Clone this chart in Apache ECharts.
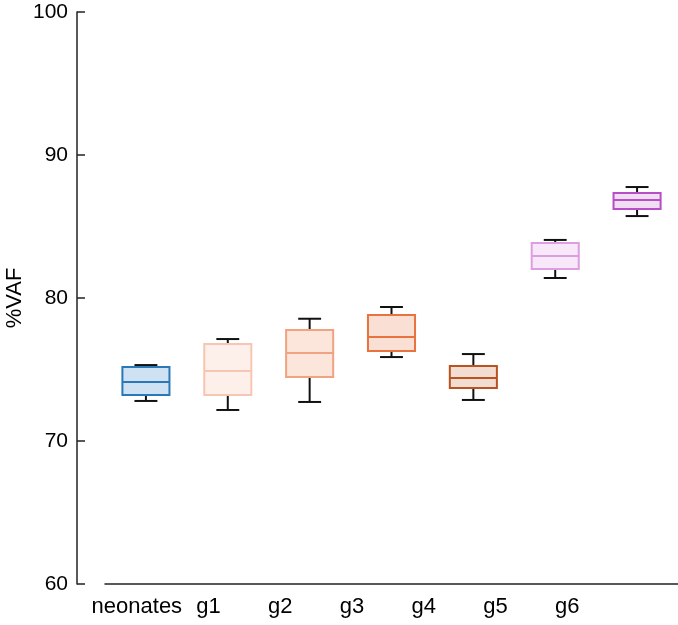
<!DOCTYPE html>
<html>
<head>
<meta charset="utf-8">
<script src="https://cdn.jsdelivr.net/npm/echarts@6/dist/echarts.min.js"></script>
<style>html,body{margin:0;padding:0;background:#fff}#c{width:678px;height:625px}</style>
</head>
<body>
<div id="c"></div>
<script>
const categories = ['neonates', 'g1', 'g2', 'g3', 'g4', 'g5', 'g6'];
const whiskerLow = [72.80, 72.17, 72.73, 75.87, 72.87, 81.40, 85.73];
const q1 = [73.22, 73.22, 74.48, 76.29, 73.71, 82.03, 86.22];
const median = [74.13, 74.90, 76.15, 77.27, 74.41, 82.94, 86.85];
const q3 = [75.17, 76.78, 77.76, 78.81, 75.24, 83.85, 87.34];
const whiskerHigh = [75.31, 77.13, 78.55, 79.37, 76.08, 84.06, 87.76];
const yTicks = [60, 70, 80, 90, 100];

const strokeColors = ['#2a78b6', '#f7c6b2', '#f0a381', '#e8733f', '#b9531f', '#dc9ee0', '#b64ec6'];
const fillColors = ['#cfe2f3', '#fdefe9', '#fce5db', '#fadfd5', '#f3ddd3', '#f7e7f8', '#f0dcf3'];

const data = categories.map((c, i) => [i, whiskerLow[i], q1[i], median[i], q3[i], whiskerHigh[i]]);

function renderItem(params, api) {
  const i = api.value(0);
  const band = api.size([1, 0])[0];
  const bw = band * 0.575;
  const cw = band * 0.28;
  const pLow = api.coord([i, api.value(1)]);
  const pQ1 = api.coord([i, api.value(2)]);
  const pMed = api.coord([i, api.value(3)]);
  const pQ3 = api.coord([i, api.value(4)]);
  const pHigh = api.coord([i, api.value(5)]);
  const x = pMed[0];
  const wStyle = { stroke: '#111', lineWidth: 2 };
  const sc = strokeColors[i];
  return {
    type: 'group',
    children: [
      { type: 'line', shape: { x1: x, y1: pHigh[1], x2: x, y2: pQ3[1] }, style: wStyle },
      { type: 'line', shape: { x1: x - cw / 2, y1: pHigh[1], x2: x + cw / 2, y2: pHigh[1] }, style: wStyle },
      { type: 'line', shape: { x1: x, y1: pLow[1], x2: x, y2: pQ1[1] }, style: wStyle },
      { type: 'line', shape: { x1: x - cw / 2, y1: pLow[1], x2: x + cw / 2, y2: pLow[1] }, style: wStyle },
      { type: 'rect', shape: { x: x - bw / 2, y: pQ3[1], width: bw, height: pQ1[1] - pQ3[1] },
        style: { fill: fillColors[i], stroke: sc, lineWidth: 2 } },
      { type: 'line', shape: { x1: x - bw / 2, y1: pMed[1], x2: x + bw / 2, y2: pMed[1] },
        style: { stroke: sc, lineWidth: 2 } }
    ]
  };
}

const chart = echarts.init(document.getElementById('c'), null, { renderer: 'canvas' });
const fontFamily = 'Liberation Sans, Arial, sans-serif';
chart.setOption({
  animation: false,
  backgroundColor: '#fff',
  grid: [
    { left: 105, right: 0, top: 12, bottom: 41, containLabel: false, outerBoundsMode: 'none' },
    { left: 101, width: 502, top: 12, bottom: 41, containLabel: false, outerBoundsMode: 'none' }
  ],
  xAxis: [
    {
      type: 'category', gridIndex: 0, data: categories,
      axisLine: { lineStyle: { color: '#222', width: 1.5 } },
      axisTick: { show: false }, axisLabel: { show: false }, splitLine: { show: false }
    },
    {
      type: 'category', gridIndex: 1, data: categories,
      axisLine: { show: false }, axisTick: { show: false },
      axisLabel: { color: '#000', fontSize: 22, fontFamily: fontFamily, margin: 12, interval: 0 },
      splitLine: { show: false }
    }
  ],
  yAxis: [
    {
      type: 'value', gridIndex: 0, min: 60, max: 100, interval: 10, offset: 28,
      name: '%VAF', nameLocation: 'middle', nameGap: 51, nameMoveOverlap: false,
      nameTextStyle: { color: '#000', fontSize: 22, fontFamily: fontFamily },
      axisLine: { show: true, lineStyle: { color: '#222', width: 1.5 } },
      axisTick: { show: true, inside: true, length: 8, lineStyle: { color: '#222', width: 1.5 } },
      axisLabel: { color: '#000', fontSize: 21, fontFamily: fontFamily, margin: 9,
        formatter: v => yTicks.includes(v) ? String(v) : '' },
      splitLine: { show: false }
    },
    {
      type: 'value', gridIndex: 1, min: 60, max: 100, show: false
    }
  ],
  series: [{
    type: 'custom',
    xAxisIndex: 0, yAxisIndex: 0,
    renderItem: renderItem,
    encode: { x: 0, y: [1, 2, 3, 4, 5] },
    data: data
  }]
});
</script>
</body>
</html>
